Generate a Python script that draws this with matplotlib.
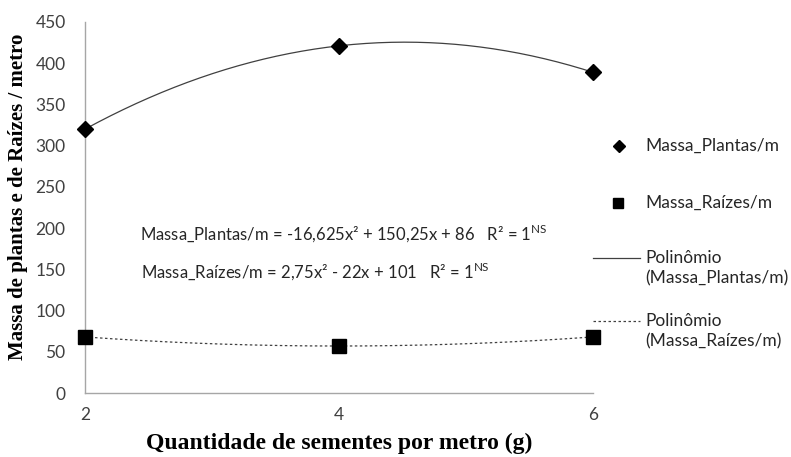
import numpy as np
import matplotlib
matplotlib.use("Agg")
import matplotlib.pyplot as plt
from matplotlib.lines import Line2D

plt.rcParams['font.family'] = ['Lato', 'DejaVu Sans']
plt.rcParams['mathtext.fontset'] = 'custom'
plt.rcParams['mathtext.rm'] = 'Lato'

# Data
sementes = [2, 4, 6]
massa_plantas = [320, 421, 389]
massa_raizes = [68, 57, 68]
y_ticks = [0, 50, 100, 150, 200, 250, 300, 350, 400, 450]
x_ticks = [2, 4, 6]

fig = plt.figure(figsize=(7.91, 4.57), dpi=100)
ax = fig.add_axes([0.1075, 0.140, 0.642, 0.812])

# Quadratic trend lines
xs = np.linspace(2, 6, 200)
cp = np.polyfit(sementes, massa_plantas, 2)
cr = np.polyfit(sementes, massa_raizes, 2)
ax.plot(xs, np.polyval(cp, xs), color='#404040', lw=0.9, zorder=2)
ax.plot(xs, np.polyval(cr, xs), color='#404040', lw=0.9, ls=(0, (2, 2)), zorder=2)

ax.plot(sementes, massa_plantas, ls='none', marker='D', ms=8.5, color='black',
        clip_on=False, zorder=3)
ax.plot(sementes, massa_raizes, ls='none', marker='s', ms=9.5, color='black',
        clip_on=False, zorder=3)

ax.set_xlim(2, 6)
ax.set_ylim(0, 450)
ax.set_xticks(x_ticks)
ax.set_yticks(y_ticks)
ax.tick_params(length=0, labelsize=12.5, labelcolor='#404040')
ax.tick_params(axis='y', pad=14)
ax.tick_params(axis='x', pad=10)
for s in ['top', 'right']:
    ax.spines[s].set_visible(False)
for s in ['left', 'bottom']:
    ax.spines[s].set_color('#A6A6A6')
    ax.spines[s].set_linewidth(1.0)

ax.set_xlabel('Quantidade de sementes por metro (g)',
              family='Liberation Serif', weight='bold', size=17)
ax.xaxis.set_label_coords(0.5, -(443 - 393) / 371, transform=ax.transAxes)
ax.xaxis.label.set_va('center')
ax.set_ylabel('Massa de plantas e de Raízes / metro',
              family='Liberation Serif', weight='bold', size=15)
ax.yaxis.set_label_coords(-(85 - 18) / 508, (393 - 197) / 371, transform=ax.transAxes)
ax.yaxis.label.set_va('center')

# Regression equations
eq_kw = dict(fontsize=12, color='#262626', transform=fig.transFigure, va='center')
fig.text(140 / 791, 1 - 233 / 457,
         r'Massa_Plantas/m = -16,625x² + 150,25x + 86   R² = 1$^{\mathregular{NS}}$', **eq_kw)
fig.text(141 / 791, 1 - 271 / 457,
         r'Massa_Raízes/m = 2,75x² - 22x + 101   R² = 1$^{\mathregular{NS}}$', **eq_kw)

# Legend
lg_kw = dict(fontsize=12.5, color='#262626', va='center', ha='left')
def fy(py):
    return 1 - py / 457

fig.lines.append(Line2D([619 / 791], [fy(146)], marker='D', ms=6, color='black',
                        transform=fig.transFigure))
fig.text(645 / 791, fy(146), 'Massa_Plantas/m', **lg_kw)
fig.lines.append(Line2D([618 / 791], [fy(203)], marker='s', ms=7, color='black',
                        transform=fig.transFigure))
fig.text(645 / 791, fy(203), 'Massa_Raízes/m', **lg_kw)
fig.lines.append(Line2D([593 / 791, 640 / 791], [fy(258), fy(258)], color='#404040', lw=0.9,
                        transform=fig.transFigure))
fig.text(645 / 791, fy(258), 'Polinômio', **lg_kw)
fig.text(645 / 791, fy(278), '(Massa_Plantas/m)', **lg_kw)
fig.lines.append(Line2D([593 / 791, 640 / 791], [fy(321), fy(321)], color='#404040', lw=0.9,
                        ls=(0, (2, 2)), transform=fig.transFigure))
fig.text(645 / 791, fy(321), 'Polinômio', **lg_kw)
fig.text(645 / 791, fy(341), '(Massa_Raízes/m)', **lg_kw)

fig.savefig('out.png', dpi=100)
